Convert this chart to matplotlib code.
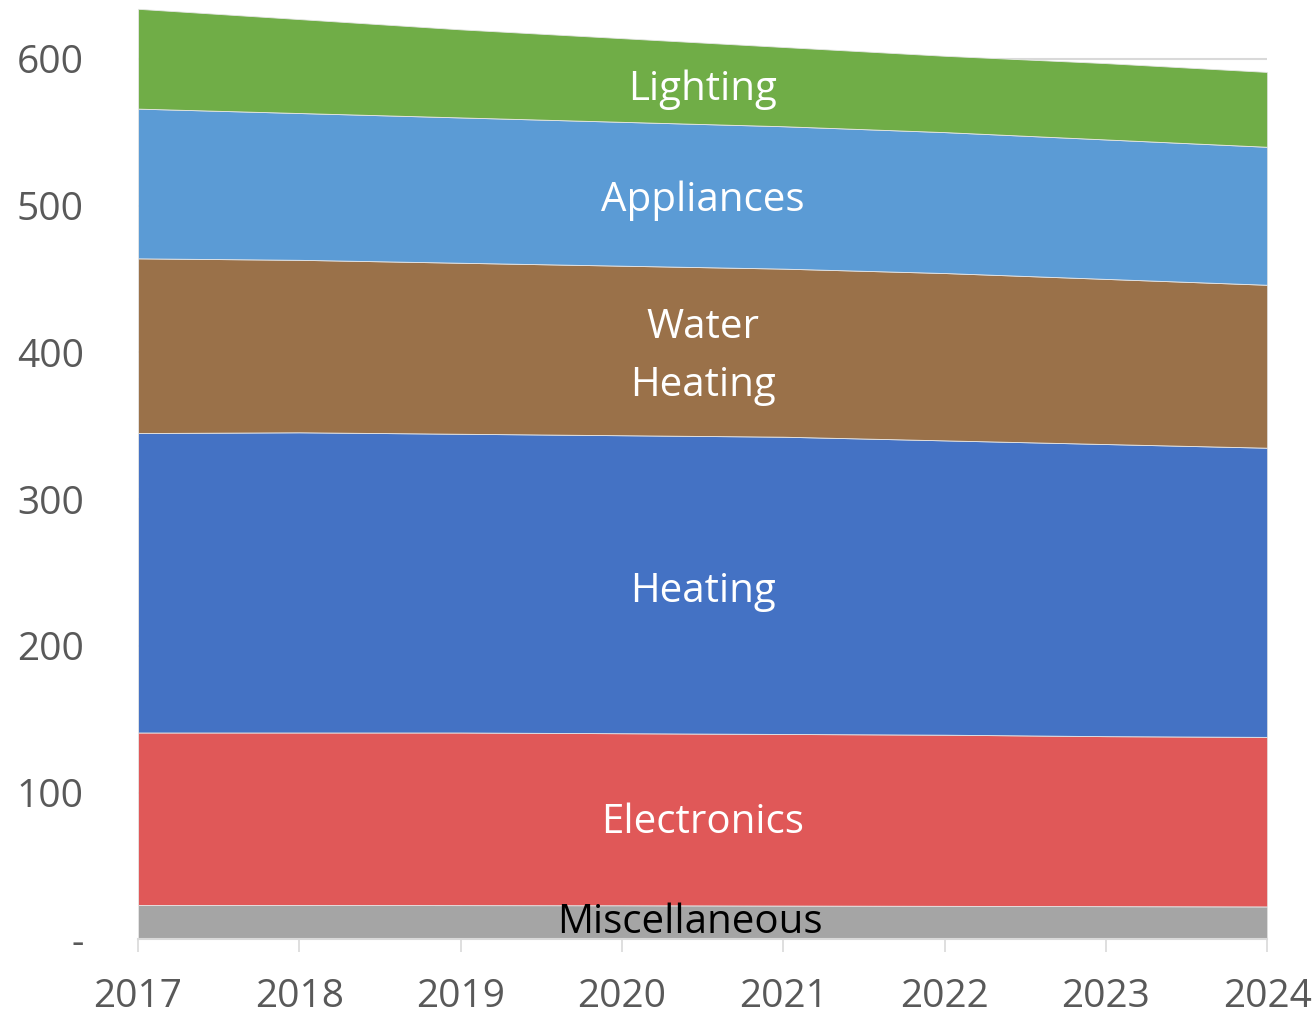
"""Stacked area chart of energy use by end use, 2017-2024."""
import matplotlib
matplotlib.use("Agg")
import matplotlib.pyplot as plt

plt.rcParams["font.family"] = ["Open Sans", "DejaVu Sans"]

# Data
years = [2017, 2018, 2019, 2020, 2021, 2022, 2023, 2024]
miscellaneous = [23.5, 23.5, 23.4, 23.3, 23.1, 22.9, 22.7, 22.5]
electronics = [117.5, 117.5, 117.6, 117.2, 116.9, 116.6, 115.8, 115.5]
heating = [204.0, 204.5, 203.5, 203.0, 202.5, 200.5, 199.0, 197.0]
water_heating = [119.0, 117.5, 116.5, 115.5, 114.5, 114.0, 112.5, 111.0]
appliances = [102.0, 100.0, 99.0, 98.0, 97.0, 96.0, 95.0, 94.0]
lighting = [68.0, 64.0, 60.0, 57.0, 54.0, 52.0, 52.0, 51.0]

series_names = ["Miscellaneous", "Electronics", "Heating",
                "Water\nHeating", "Appliances", "Lighting"]
y_ticks = [0, 100, 200, 300, 400, 500, 600]
y_tick_labels = ["-", "100", "200", "300", "400", "500", "600"]

colors = ["#A5A5A5", "#E05858", "#4472C4", "#9A7149", "#5B9BD5", "#70AD47"]
# label anchor (x, y) in data coords and text colour
label_pos = [(2020.42, 11.5), (2020.5, 79.5), (2020.5, 237),
             (2020.5, 397), (2020.5, 503), (2020.5, 579)]
label_colors = ["black", "white", "white", "white", "white", "white"]

fig = plt.figure(figsize=(13.16, 10.14), dpi=100)
ax = fig.add_axes([0.1049, 0.0735, 0.858, 0.9265])

stacks = [miscellaneous, electronics, heating, water_heating, appliances, lighting]
ax.stackplot(years, *stacks, colors=colors, edgecolor="#e6e6e6",
             linewidth=0.6, zorder=2)

for name, (lx, ly), c in zip(series_names, label_pos, label_colors):
    ax.text(lx, ly, name, color=c, fontsize=29, ha="center", va="center",
            linespacing=1.55, zorder=3)

ax.set_xlim(2017, 2024)
ax.set_ylim(0, 640)
ax.set_xticks(years)
ax.set_xticklabels([str(y) for y in years])
ax.set_yticks(y_ticks)
ax.set_yticklabels(y_tick_labels)
ax.grid(axis="y", color="#d9d9d9", linewidth=1.5, zorder=0)
ax.set_axisbelow(True)

for side in ["top", "right", "left"]:
    ax.spines[side].set_visible(False)
ax.spines["bottom"].set_color("#d9d9d9")
ax.spines["bottom"].set_linewidth(1.5)
ax.spines["bottom"].set_zorder(4)

ax.tick_params(axis="y", length=0, pad=39, labelsize=28, labelcolor="#595959")
ax.tick_params(axis="x", length=9.5, width=1.2, color="#d9d9d9",
               pad=18, labelsize=28, labelcolor="#595959")

plt.savefig("out.png", dpi=100)
